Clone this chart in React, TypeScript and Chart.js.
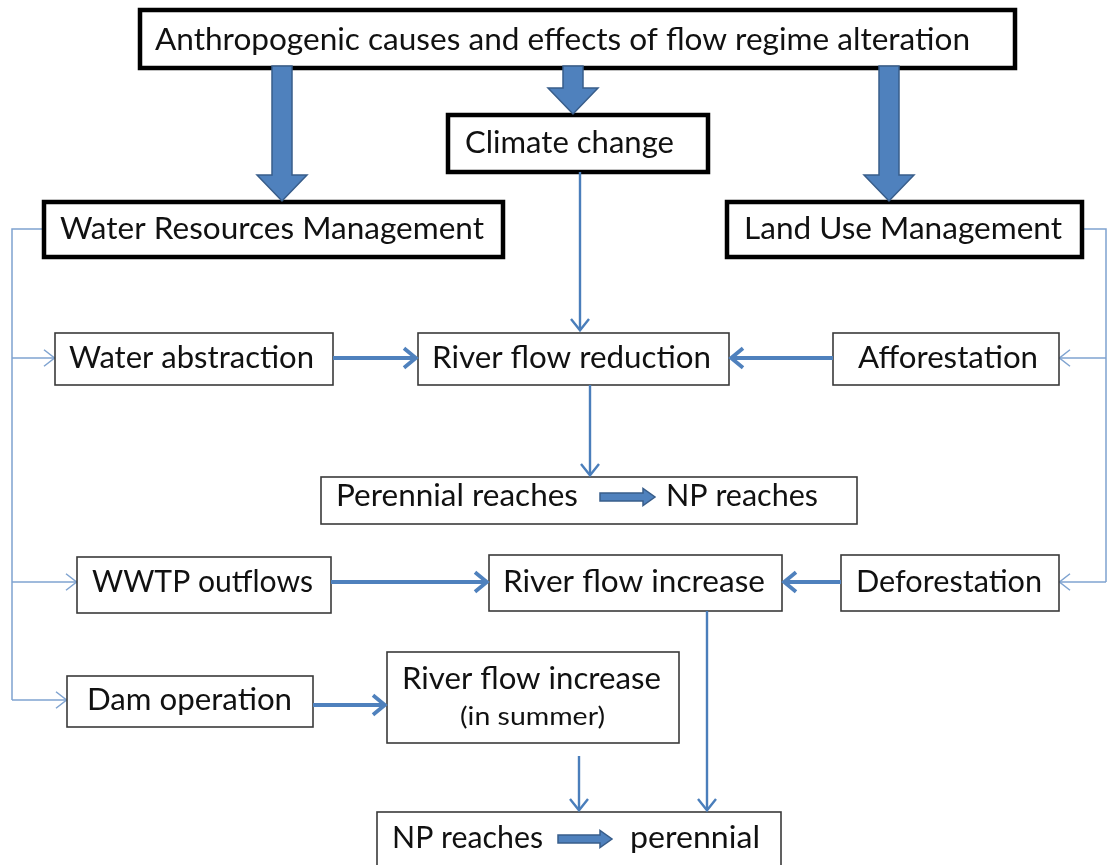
import { useEffect, useRef } from "react";
import { Chart, registerables } from "chart.js";

Chart.register(...registerables);

const W = 1108;
const H = 865;

// ---- Flowchart data (in diagram units, drawn through the chart's x/y scales) ----
const nodeLabels = [
  "Anthropogenic causes and effects of flow regime alteration",
  "Climate change",
  "Water Resources Management",
  "Land Use Management",
  "Water abstraction",
  "River flow reduction",
  "Afforestation",
  "Perennial reaches|NP reaches",
  "WWTP outflows",
  "River flow increase",
  "Deforestation",
  "Dam operation",
  "River flow increase\n(in summer)",
  "NP reaches|perennial",
];
// left, top, right, bottom
const nodeBoxes = [
  [140, 10, 1015, 68],
  [448, 115, 708, 172],
  [44, 202, 503, 257],
  [727, 202, 1082, 257],
  [55, 333, 333, 385],
  [418, 333, 729, 385],
  [833, 333, 1059, 385],
  [321, 477, 857, 524],
  [77, 557, 331, 613],
  [489, 555, 782, 611],
  [841, 555, 1059, 611],
  [67, 676, 313, 727],
  [387, 652, 679, 743],
  [377, 812, 781, 880],
];
const nodeHeavy = [true, true, true, true, false, false, false, false, false, false, false, false, false, false];

// text layout: [start x, end x, centre y] for each text piece (two pieces for split labels)
const textSpans = [
  [[155, 970, 40]],
  [[465, 674, 143]],
  [[60, 484, 229]],
  [[744, 1062, 229]],
  [[69, 314, 358]],
  [[432, 711, 358]],
  [[858, 1038, 358]],
  [[336, 578, 496], [666, 818, 496]],
  [[92, 313, 582]],
  [[503, 765, 582]],
  [[856, 1042, 582]],
  [[87, 292, 700]],
  [[402, 661, 679], [460, 605, 717]],
  [[392, 543, 838], [630, 760, 838]],
];
const textSizes = [31, 30, 30, 30, 30, 30, 30, 30, 30, 30, 30, 30, 30, 30];
const inlineArrows = [
  null, null, null, null, null, null, null,
  [600, 655, 497],
  null, null, null, null, null,
  [558, 612, 839],
];

// thick block arrows from the title box: [x1, y1, x2, y2]
const blockArrows = [
  [282, 66, 282, 201],
  [573, 66, 573, 114],
  [889, 66, 889, 201],
];
// medium connectors with arrow heads
const mediumArrows = [
  [333, 358, 417, 358],
  [833, 358, 730, 358],
  [331, 582, 488, 582],
  [841, 582, 783, 582],
  [313, 705, 386, 705],
];
// thin connectors with arrow heads
const thinArrows = [
  [580, 172, 580, 331],
  [590, 385, 590, 476],
  [579, 756, 579, 811],
  [707, 611, 707, 811],
];
// light bracket lines (polylines) and their arrow branches
const bracketLines = [
  [[44, 229], [12, 229], [12, 700]],
  [[1082, 229], [1106, 229], [1106, 582]],
];
const bracketArrows = [
  [12, 358, 55, 358],
  [12, 582, 77, 582],
  [12, 700, 67, 700],
  [1106, 358, 1059, 358],
  [1106, 582, 1059, 582],
];

const FONT = "Lato, 'Open Sans', sans-serif";

function blockArrow(ctx: CanvasRenderingContext2D, x1: number, y1: number, x2: number, y2: number, shaft: number, headW: number, headL: number) {
  const dx = x2 - x1, dy = y2 - y1;
  const L = Math.hypot(dx, dy);
  const ux = dx / L, uy = dy / L;
  const nx = -uy, ny = ux;
  const bx = x2 - ux * headL, by = y2 - uy * headL;
  const s = shaft / 2, h = headW / 2;
  ctx.beginPath();
  ctx.moveTo(x1 + nx * s, y1 + ny * s);
  ctx.lineTo(bx + nx * s, by + ny * s);
  ctx.lineTo(bx + nx * h, by + ny * h);
  ctx.lineTo(x2, y2);
  ctx.lineTo(bx - nx * h, by - ny * h);
  ctx.lineTo(bx - nx * s, by - ny * s);
  ctx.lineTo(x1 - nx * s, y1 - ny * s);
  ctx.closePath();
  ctx.fillStyle = "#4F81BD";
  ctx.fill();
  ctx.strokeStyle = "#385D8A";
  ctx.lineWidth = 1.5;
  ctx.stroke();
}

function lineArrow(ctx: CanvasRenderingContext2D, x1: number, y1: number, x2: number, y2: number, color: string, lw: number, head: number) {
  const dx = x2 - x1, dy = y2 - y1;
  const L = Math.hypot(dx, dy);
  const ux = dx / L, uy = dy / L;
  const nx = -uy, ny = ux;
  ctx.strokeStyle = color;
  ctx.lineWidth = lw;
  ctx.lineCap = "butt";
  ctx.beginPath();
  ctx.moveTo(x1, y1);
  ctx.lineTo(x2 - ux * lw * 0.5, y2 - uy * lw * 0.5);
  ctx.stroke();
  ctx.lineJoin = "miter";
  ctx.beginPath();
  const a = head, b = head * 0.75;
  ctx.moveTo(x2 - ux * a + nx * b, y2 - uy * a + ny * b);
  ctx.lineTo(x2 - ux * lw * 0.3, y2 - uy * lw * 0.3);
  ctx.lineTo(x2 - ux * a - nx * b, y2 - uy * a - ny * b);
  ctx.stroke();
}

function fitText(ctx: CanvasRenderingContext2D, text: string, x1: number, x2: number, y: number, size: number) {
  ctx.font = `${size}px ${FONT}`;
  ctx.textAlign = "left";
  ctx.textBaseline = "middle";
  const w = ctx.measureText(text).width;
  const sx = (x2 - x1) / w;
  ctx.save();
  ctx.translate(x1, y);
  ctx.scale(sx, 1);
  ctx.fillStyle = "#111111";
  ctx.fillText(text, 0, 0);
  ctx.restore();
}

const diagramPlugin = {
  id: "diagram",
  afterDatasetsDraw(chart: any) {
    const ctx: CanvasRenderingContext2D = chart.ctx;
    const xs = chart.scales.x, ys = chart.scales.y;
    const X = (v: number) => xs.getPixelForValue(v);
    const Y = (v: number) => ys.getPixelForValue(v);
    ctx.save();

    // bracket lines
    ctx.strokeStyle = "#7FA3D0";
    ctx.lineWidth = 1.5;
    bracketLines.forEach((pl) => {
      ctx.beginPath();
      pl.forEach(([x, y], i) => (i === 0 ? ctx.moveTo(X(x), Y(y)) : ctx.lineTo(X(x), Y(y))));
      ctx.stroke();
    });
    bracketArrows.forEach(([x1, y1, x2, y2]) => lineArrow(ctx, X(x1), Y(y1), X(x2), Y(y2), "#7FA3D0", 1.5, 11));

    // boxes
    nodeBoxes.forEach(([l, t, r, b], i) => {
      const heavy = nodeHeavy[i];
      ctx.fillStyle = "#FFFFFF";
      ctx.fillRect(X(l), Y(t), X(r) - X(l), Y(b) - Y(t));
      ctx.strokeStyle = heavy ? "#000000" : "#3A3A3A";
      ctx.lineWidth = heavy ? 4.5 : 1.6;
      ctx.strokeRect(X(l), Y(t), X(r) - X(l), Y(b) - Y(t));
    });

    // connectors
    thinArrows.forEach(([x1, y1, x2, y2]) => lineArrow(ctx, X(x1), Y(y1), X(x2), Y(y2), "#4A7EBB", 2.4, 12));
    mediumArrows.forEach(([x1, y1, x2, y2]) => lineArrow(ctx, X(x1), Y(y1), X(x2), Y(y2), "#4F81BD", 3.8, 13));
    blockArrows.forEach(([x1, y1, x2, y2]) => blockArrow(ctx, X(x1), Y(y1), X(x2), Y(y2), 20, 50, 26));

    // texts
    nodeLabels.forEach((label, i) => {
      const parts = label.split(/\n|\|/);
      parts.forEach((p, k) => {
        const [a, b, y] = textSpans[i][k];
        const size = i === 12 && k === 1 ? 25 : textSizes[i];
        fitText(ctx, p, X(a), X(b), Y(y), size);
      });
      const ia = inlineArrows[i];
      if (ia) blockArrow(ctx, X(ia[0]), Y(ia[2]), X(ia[1]), Y(ia[2]), 8, 17, 12);
    });
    ctx.restore();
  },
};

export default function App() {
  const ref = useRef<HTMLCanvasElement | null>(null);
  useEffect(() => {
    if (!ref.current) return;
    const centers = nodeBoxes.map(([l, t, r, b]) => ({ x: (l + r) / 2, y: (t + b) / 2 }));
    const chart = new Chart(ref.current, {
      type: "scatter",
      data: {
        datasets: [
          {
            label: "nodes",
            data: centers,
            pointRadius: 0,
            pointHoverRadius: 0,
          },
        ],
      },
      options: {
        animation: false,
        responsive: false,
        maintainAspectRatio: false,
        layout: { padding: 0 },
        events: [],
        plugins: {
          legend: { display: false },
          tooltip: { enabled: false },
          title: { display: false },
        },
        scales: {
          x: { type: "linear", min: 0, max: W, display: false },
          y: { type: "linear", min: 0, max: H, reverse: true, display: false },
        },
      },
      plugins: [diagramPlugin],
    });
    return () => chart.destroy();
  }, []);
  return (
    <div style={{ position: "absolute", left: 0, top: 0, width: W, height: H, background: "#fff", overflow: "hidden" }}>
      <canvas ref={ref} width={W} height={H} style={{ width: W, height: H, display: "block" }} />
    </div>
  );
}
